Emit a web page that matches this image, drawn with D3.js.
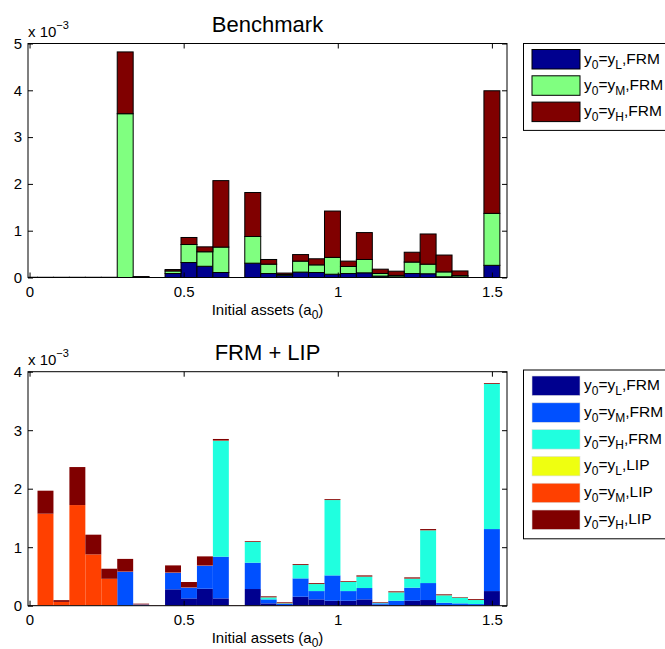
<!DOCTYPE html>
<html lang="en">
<head>
    <meta charset="UTF-8">
    <title>Benchmark vs FRM + LIP</title>
    <style>
        body {
            margin: 0;
            background: #FFFFFF;
        }
        text {
            font-family: "Liberation Sans", Arial, sans-serif;
            fill: #000;
        }
    </style>
</head>
<body>
<div id="chart"></div>
<script src="https://d3js.org/d3.v7.min.js"></script>
<script>
    // bin centres: 30 bins between 0 and 1.5 (initial assets a0)
    const binCount = 30;
    const binStep = 1.5 / 29;
    const bins = d3.range(binCount).map(k => k * binStep);

    const xTicks = [0, 0.5, 1, 1.5];
    const xTickLabels = ["0", "0.5", "1", "1.5"];
    const topYTicks = [0, 1, 2, 3, 4, 5];
    const botYTicks = [0, 1, 2, 3, 4];

    // Benchmark panel (x 10^-3), segment heights per bin
    const benchL = [0, 0, 0, 0, 0, 0, 0, 0, 0, 0.085, 0.32, 0.24, 0.107, 0, 0.306,
        0.085, 0.04, 0.115, 0.107, 0.07, 0.085, 0.1, 0.03, 0.015, 0.085, 0.08, 0.015, 0.01, 0, 0.26];
    const benchM = [0, 0, 0, 0, 0, 0, 3.50, 0, 0, 0.055, 0.385, 0.31, 0.543, 0, 0.57,
        0.2, 0.025, 0.235, 0.163, 0.36, 0.15, 0.285, 0.055, 0.03, 0.245, 0.205, 0.105, 0.03, 0, 1.11];
    const benchH = [0.005, 0.005, 0.005, 0.005, 0.005, 0.005, 1.32, 0.02, 0, 0.03, 0.15, 0.105, 1.42, 0, 0.94,
        0.1, 0.03, 0.14, 0.13, 0.99, 0.115, 0.575, 0.093, 0.09, 0.21, 0.645, 0.36, 0.10, 0, 2.62];

    // FRM + LIP panel (x 10^-3)
    const frmL = [0, 0, 0, 0, 0, 0, 0, 0, 0, 0.28, 0.125, 0.29, 0.125, 0, 0.285,
        0.04, 0.01, 0.154, 0.108, 0.085, 0.085, 0.108, 0.017, 0.011, 0.085, 0.097, 0.011, 0.006, 0.005, 0.25];
    const frmM = [0, 0, 0, 0, 0, 0, 0.58, 0.02, 0, 0.284, 0.185, 0.394, 0.713, 0, 0.45,
        0.068, 0.02, 0.313, 0.142, 0.433, 0.165, 0.194, 0.023, 0.074, 0.223, 0.29, 0.04, 0.034, 0.023, 1.06];
    const frmH = [0, 0, 0, 0, 0, 0, 0, 0, 0, 0, 0, 0, 1.982, 0, 0.355,
        0.034, 0.01, 0.228, 0.12, 1.288, 0.155, 0.194, 0.01, 0.143, 0.154, 0.901, 0.126, 0.097, 0.069, 2.48];
    const lipL = [0, 0, 0, 0, 0, 0, 0, 0, 0, 0, 0, 0, 0, 0, 0,
        0, 0, 0, 0, 0, 0, 0, 0, 0, 0, 0, 0, 0, 0, 0];
    const lipM = [0, 1.573, 0.065, 1.72, 0.877, 0.46, 0.005, 0.005, 0, 0.005, 0.005, 0.005, 0.005, 0, 0.003,
        0.003, 0.003, 0.003, 0.003, 0.003, 0.003, 0.003, 0.003, 0.003, 0.003, 0.003, 0.003, 0.003, 0.003, 0.003];
    const lipH = [0.01, 0.393, 0.03, 0.65, 0.337, 0.172, 0.215, 0.01, 0.006, 0.12, 0.09, 0.154, 0.025, 0.006, 0.012,
        0.015, 0.015, 0.014, 0.014, 0.014, 0.012, 0.019, 0.01, 0.014, 0.019, 0.019, 0.014, 0.008, 0.014, 0.013];

    const W = 665, H = 649;
    const svg = d3.select("#chart").append("svg")
        .attr("width", W)
        .attr("height", H);

    const x = d3.scaleLinear()
        .domain([-0.005, 1.549])
        .range([28, 507]);

    function drawPanel(cfg) {
        const keys = cfg.series.map(s => s.key);
        const rows = bins.map((b, i) => {
            const r = {a: b};
            cfg.series.forEach(s => r[s.key] = s.values[i]);
            return r;
        });
        const stacked = d3.stack().keys(keys)(rows);

        const y = d3.scaleLinear()
            .domain([0, cfg.yMax])
            .range([cfg.bottom, cfg.top]);

        const g = svg.append("g");

        // clip bars to the axes box
        const clipId = "clip" + cfg.id;
        svg.append("clipPath").attr("id", clipId)
            .append("rect")
            .attr("x", x.range()[0]).attr("y", cfg.top - 2)
            .attr("width", x.range()[1] - x.range()[0])
            .attr("height", cfg.bottom - cfg.top + 2);

        const bw = x(binStep) - x(0);

        g.append("g")
            .attr("clip-path", `url(#${clipId})`)
            .selectAll("g")
            .data(stacked)
            .join("g")
            .attr("fill", d => cfg.series.find(s => s.key === d.key).color)
            .selectAll("rect")
            .data(d => d)
            .join("rect")
            .attr("x", d => x(d.data.a) - bw / 2)
            .attr("width", bw)
            .attr("y", d => y(d[1]))
            .attr("height", d => Math.max(0, y(d[0]) - y(d[1])))
            .attr("stroke", cfg.edge ? "#000" : "none")
            .attr("stroke-width", cfg.edge ? 1 : 0);

        // axes: ticks pointing inwards on all four sides
        const x0 = x.range()[0], x1 = x.range()[1];
        g.append("g")
            .attr("transform", `translate(0,${cfg.bottom})`)
            .call(d3.axisBottom(x).tickValues(xTicks).tickSize(-5).tickPadding(9)
                .tickFormat((d, i) => xTickLabels[i]))
            .call(a => a.select(".domain").remove())
            .call(a => a.selectAll("text").style("font-size", "15px").style("font-family", "Liberation Sans, Arial"));
        g.append("g")
            .attr("transform", `translate(0,${cfg.top})`)
            .call(d3.axisTop(x).tickValues(xTicks).tickSize(-5).tickFormat(""))
            .call(a => a.select(".domain").remove());
        g.append("g")
            .attr("transform", `translate(${x0},0)`)
            .call(d3.axisLeft(y).tickValues(cfg.yTicks).tickSize(-5).tickPadding(6).tickFormat(d3.format("d")))
            .call(a => a.select(".domain").remove())
            .call(a => a.selectAll("text").style("font-size", "15px").style("font-family", "Liberation Sans, Arial"));
        g.append("g")
            .attr("transform", `translate(${x1},0)`)
            .call(d3.axisRight(y).tickValues(cfg.yTicks).tickSize(-5).tickFormat(""))
            .call(a => a.select(".domain").remove());

        g.append("rect")
            .attr("x", x0).attr("y", cfg.top)
            .attr("width", x1 - x0).attr("height", cfg.bottom - cfg.top)
            .attr("fill", "none").attr("stroke", "#000").attr("stroke-width", 1);

        // title
        g.append("text")
            .attr("x", (x0 + x1) / 2).attr("y", cfg.top - 12)
            .attr("text-anchor", "middle")
            .style("font-size", "22px")
            .text(cfg.title);

        // exponent label
        const ex = g.append("text")
            .attr("x", x0).attr("y", cfg.top - 7)
            .style("font-size", "15px");
        ex.append("tspan").text("x 10");
        ex.append("tspan").attr("dy", -8).style("font-size", "11px").text("\u22123");

        // x label
        const xl = g.append("text")
            .attr("x", (x0 + x1) / 2).attr("y", cfg.bottom + 37.5)
            .attr("text-anchor", "middle")
            .style("font-size", "15px");
        xl.append("tspan").text("Initial assets (a");
        xl.append("tspan").attr("dy", 4).style("font-size", "12px").text("0");
        xl.append("tspan").attr("dy", -4).text(")");

        // legend
        const lg = g.append("g");
        const rowH = cfg.legendRow;
        lg.append("rect")
            .attr("x", 523.5).attr("y", cfg.legendTop)
            .attr("width", 160)
            .attr("height", cfg.series.length * rowH + 8)
            .attr("fill", "#fff").attr("stroke", "#000");
        const items = lg.selectAll("g.item")
            .data(cfg.series)
            .join("g")
            .attr("class", "item")
            .attr("transform", (d, i) => `translate(532,${cfg.legendTop + 6 + i * rowH})`);
        items.append("rect")
            .attr("width", 48).attr("height", 19.5)
            .attr("fill", d => d.color)
            .attr("stroke", cfg.edge ? "#000" : "#ddd")
            .attr("stroke-width", cfg.edge ? 1 : 0.6);
        const lt = items.append("text")
            .attr("x", 52).attr("y", 14)
            .style("font-size", "15.5px");
        lt.append("tspan").text("y");
        lt.append("tspan").attr("dy", 5).style("font-size", "12px").text("0");
        lt.append("tspan").attr("dy", -5).text("=y");
        lt.append("tspan").attr("dy", 5).style("font-size", "12px").text(d => d.sub);
        lt.append("tspan").attr("dy", -5).text(d => "," + d.tag);
    }

    drawPanel({
        id: "top",
        title: "Benchmark",
        top: 43.5,
        bottom: 277.5,
        yMax: 5,
        yTicks: topYTicks,
        edge: true,
        legendTop: 43.5,
        legendRow: 26.3,
        series: [
            {key: "L", values: benchL, color: "#00008F", sub: "L", tag: "FRM"},
            {key: "M", values: benchM, color: "#80FF80", sub: "M", tag: "FRM"},
            {key: "H", values: benchH, color: "#800000", sub: "H", tag: "FRM"}
        ]
    });

    drawPanel({
        id: "bot",
        title: "FRM + LIP",
        top: 371.7,
        bottom: 605.7,
        yMax: 4,
        yTicks: botYTicks,
        edge: false,
        legendTop: 370,
        legendRow: 26.8,
        series: [
            {key: "fL", values: frmL, color: "#00008F", sub: "L", tag: "FRM"},
            {key: "fM", values: frmM, color: "#0050FF", sub: "M", tag: "FRM"},
            {key: "fH", values: frmH, color: "#20FFDF", sub: "H", tag: "FRM"},
            {key: "lL", values: lipL, color: "#EFFF10", sub: "L", tag: "LIP"},
            {key: "lM", values: lipM, color: "#FF4000", sub: "M", tag: "LIP"},
            {key: "lH", values: lipH, color: "#800000", sub: "H", tag: "LIP"}
        ]
    });
</script>
</body>
</html>
